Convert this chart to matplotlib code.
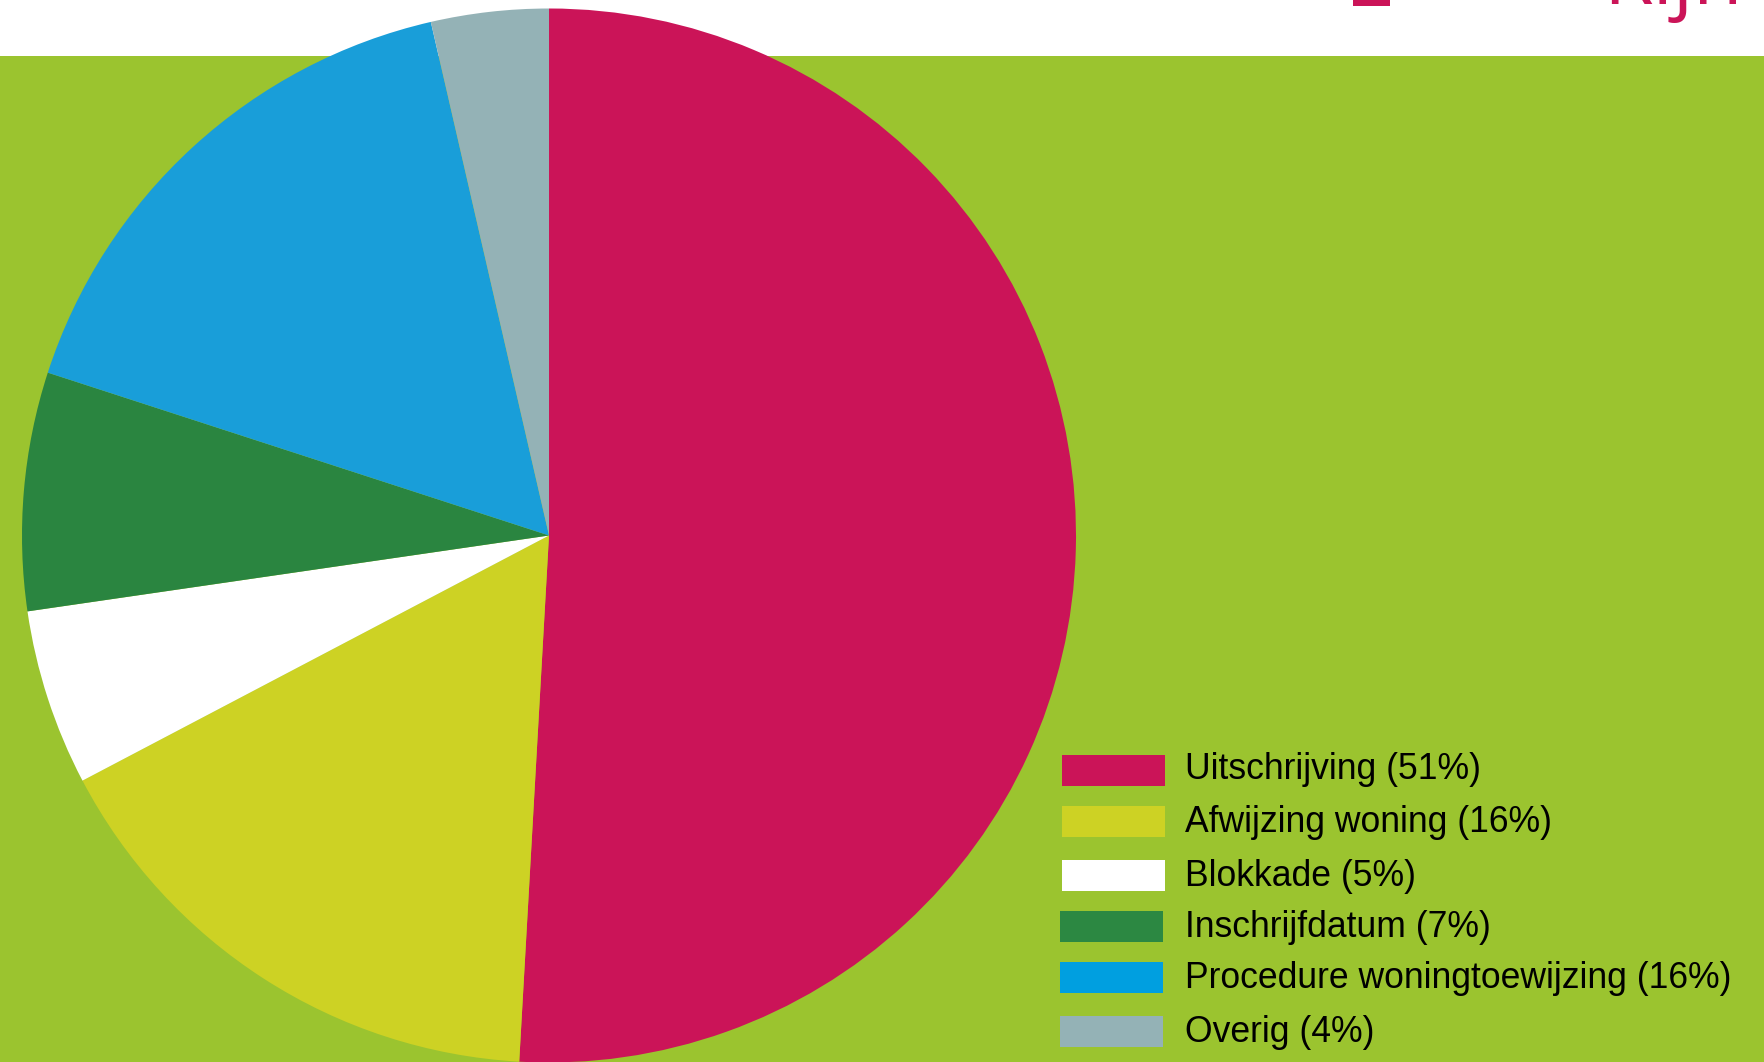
import matplotlib
matplotlib.use("Agg")
import matplotlib.pyplot as plt
from matplotlib.patches import Rectangle

# Share of complaints per category
labels = ["Uitschrijving", "Afwijzing woning", "Blokkade", "Inschrijfdatum",
          "Procedure woningtoewijzing", "Overig"]
shares = [50.9, 16.4, 5.4, 7.3, 16.4, 3.6]
legend_pct = [51, 16, 5, 7, 16, 4]
colors = ["#CB1458", "#CDD224", "#FFFFFF", "#2A8540", "#199ED9", "#94B2B6"]
legend_colors = ["#CB1458", "#CDD224", "#FFFFFF", "#2C8842", "#009FE0", "#94B2B6"]

W, H = 1764, 1062
BG_GREEN = "#9BC42F"
MAGENTA = "#CB1458"


def main():
    fig = plt.figure(figsize=(W / 100, H / 100), dpi=100, facecolor="white")

    # green band below the white header strip
    fig.patches.append(Rectangle((0, 0), 1, (H - 56) / H, transform=fig.transFigure,
                                 facecolor=BG_GREEN, edgecolor="none", zorder=-5))

    # cut-off logo bits at the top
    fig.patches.append(Rectangle((1353 / W, 1 - 6 / H), 37 / W, 6 / H, transform=fig.transFigure,
                                 facecolor=MAGENTA, edgecolor="none", zorder=-5))
    fig.text(1603 / W, 1 - 4 / H, "Rijn", color=MAGENTA, fontsize=58,
             family=["Open Sans", "DejaVu Sans"], va="baseline", ha="left")

    # pie: centre (549, 535) px, radius 527 px
    cx, cy, r = 549, 535.5, 527
    ax = fig.add_axes([(cx - r) / W, (H - cy - r) / H, 2 * r / W, 2 * r / H])
    ax.set_zorder(1)
    ax.set_facecolor("none")
    ax.pie(shares, colors=colors, startangle=90, counterclock=False, radius=1,
           wedgeprops=dict(linewidth=0, antialiased=True))
    ax.set_xlim(-1, 1)
    ax.set_ylim(-1, 1)
    ax.set_aspect("equal")
    ax.axis("off")

    # legend drawn by hand
    row_y = [770, 821, 875, 926, 977, 1031]
    for i, (y, lab, pct, col) in enumerate(zip(row_y, labels, legend_pct, legend_colors)):
        x0 = 1062 if i < 3 else 1060
        fig.patches.append(Rectangle((x0 / W, 1 - (y + 16) / H), 103 / W, 31 / H,
                                     transform=fig.transFigure, facecolor=col,
                                     edgecolor="none", zorder=3))
        off = 9 if i == 0 else 11
        fig.text(1185 / W, 1 - (y + off) / H, f"{lab} ({pct}%)", fontsize=25.6,
                 family=["Liberation Sans", "DejaVu Sans"],
                 va="baseline", ha="left", color="black", zorder=4)

    fig.savefig("out.png", dpi=100, facecolor=fig.get_facecolor())


if __name__ == "__main__":
    main()
